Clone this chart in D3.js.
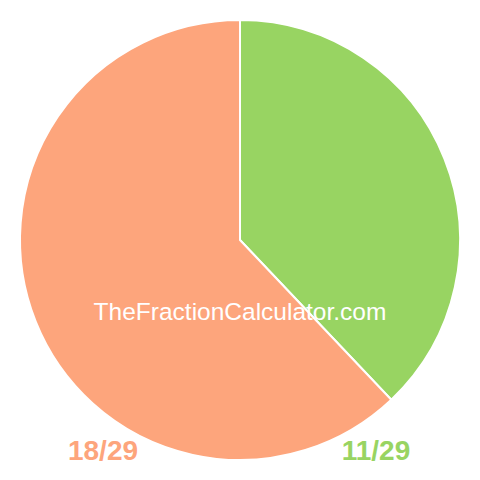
<!DOCTYPE html>
<html>
<head>
<meta charset="utf-8">
<script src="https://cdn.jsdelivr.net/npm/d3@7"></script>
<style>
  body { margin: 0; background: #fff; }
</style>
</head>
<body>
<svg class="pieSVG" width="480" height="480"></svg>
<script>
const labels = ['11/29', '18/29'];
const values = [11, 18];
const colors = ['#98d462', '#fda57c'];

function drawPie(){
  const svg = d3.select('svg.pieSVG');
  const radius = 220;

  const pie = d3.pie().sort(null).value(d => d);
  const arc = d3.arc().innerRadius(0).outerRadius(radius);

  const g = svg.append('g').attr('transform', 'translate(240,240)');

  g.selectAll('path')
    .data(pie(values))
    .enter()
    .append('path')
    .attr('d', arc)
    .style('fill', (d, i) => colors[i])
    .style('stroke', '#fff')
    .style('stroke-width', '2px');

  svg.append('text')
    .text('TheFractionCalculator.com')
    .attr('x', 240)
    .attr('y', 320)
    .style('text-anchor', 'middle')
    .style('fill', '#fff')
    .style('font-family', 'Arial, "Liberation Sans", sans-serif')
    .style('font-size', '24.5px');

  // fraction labels under the pie
  const labelX = [376, 103];
  svg.selectAll('text.label')
    .data(labels)
    .enter()
    .append('text')
    .attr('class', 'label')
    .text(d => d)
    .attr('x', (d, i) => labelX[i])
    .attr('y', 460)
    .style('text-anchor', 'middle')
    .style('fill', (d, i) => colors[i])
    .style('font-family', 'Arial, "Liberation Sans", sans-serif')
    .style('font-weight', 'bold')
    .style('font-size', '28px');
}

drawPie();
</script>
</body>
</html>
